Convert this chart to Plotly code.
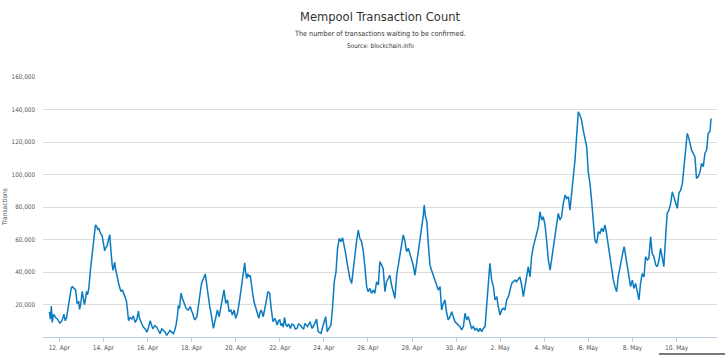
import pandas as pd
import plotly.graph_objects as go

# ---- data ----
# day offsets are fractional days after 12 Apr 2017 00:00
day_offset = [
    -0.45, -0.40, -0.36, -0.32, -0.26, -0.17, -0.08, 0.03, 0.12, 0.21, 0.27, 0.33, 0.39, 0.47, 0.54, 0.59,
    0.66, 0.74, 0.81, 0.88, 0.92, 0.98, 1.04, 1.10, 1.14, 1.20, 1.23, 1.28, 1.34, 1.41, 1.47, 1.53,
    1.59, 1.64, 1.70, 1.75, 1.79, 1.86, 1.94, 2.00, 2.06, 2.11, 2.17, 2.23, 2.29, 2.33, 2.36, 2.40,
    2.44, 2.48, 2.51, 2.55, 2.59, 2.64, 2.69, 2.75, 2.80, 2.86, 2.92, 2.98, 3.04, 3.09, 3.14, 3.21,
    3.29, 3.36, 3.44, 3.52, 3.59, 3.63, 3.67, 3.74, 3.82, 3.90, 3.97, 4.05, 4.12, 4.18, 4.24, 4.33,
    4.42, 4.50, 4.57, 4.65, 4.72, 4.80, 4.87, 4.95, 5.02, 5.10, 5.17, 5.23, 5.29, 5.35, 5.40,
    5.45, 5.52, 5.58, 5.64, 5.70, 5.75, 5.85, 5.94, 6.00, 6.05, 6.10, 6.15, 6.24, 6.30, 6.35, 6.40,
    6.45, 6.54, 6.62, 6.68, 6.72, 6.77, 6.82, 6.87, 6.93, 6.99, 7.05, 7.10, 7.17, 7.25, 7.33, 7.40,
    7.47, 7.55, 7.63, 7.70, 7.78, 7.85, 7.93, 8.00, 8.08, 8.18, 8.27, 8.35, 8.41, 8.45, 8.50, 8.55,
    8.60, 8.66, 8.71, 8.77, 8.83, 8.93, 9.00, 9.05, 9.10, 9.16, 9.25, 9.35, 9.40, 9.46, 9.54, 9.61,
    9.69, 9.78, 9.88, 9.94, 10.00, 10.05, 10.11, 10.16, 10.21, 10.27, 10.33, 10.40, 10.48, 10.55, 10.63, 10.70,
    10.78, 10.85, 10.93, 11.00, 11.08,
    11.14, 11.26, 11.37, 11.47, 11.59, 11.67, 11.74, 11.87, 11.97, 12.08, 12.15, 12.24, 12.32, 12.39, 12.47, 12.55,
    12.62, 12.70, 12.77, 12.85, 12.92, 13.00, 13.07, 13.18, 13.26, 13.33, 13.41, 13.48, 13.56, 13.63, 13.71, 13.79,
    13.86, 13.94, 14.01, 14.09, 14.16, 14.24, 14.31, 14.39, 14.47, 14.54, 14.62, 14.69, 14.77, 14.84, 14.92, 14.99,
    15.07, 15.15, 15.22, 15.30, 15.37, 15.45, 15.52, 15.60, 15.68, 15.75, 15.83, 15.90, 15.98, 16.05, 16.13, 16.20,
    16.28, 16.36, 16.43, 16.51, 16.55, 16.61, 16.67, 16.73, 16.81, 16.88, 16.96,
    17.04, 17.12, 17.19, 17.27, 17.34, 17.42, 17.49, 17.57, 17.64, 17.72, 17.80, 17.87, 17.95, 18.02, 18.10, 18.17,
    18.25, 18.33, 18.40, 18.48, 18.55, 18.63, 18.70, 18.78, 18.85, 18.93, 19.01, 19.08, 19.16, 19.23, 19.31, 19.38,
    19.46, 19.53, 19.61, 19.69, 19.76, 19.84, 19.91, 19.99, 20.06, 20.14, 20.21, 20.29, 20.37, 20.44, 20.52, 20.59,
    20.67, 20.74, 20.82, 20.89, 20.97, 21.05, 21.12, 21.20, 21.27, 21.35, 21.42, 21.50, 21.58, 21.65, 21.73, 21.80,
    21.88, 21.95, 22.03, 22.10, 22.18, 22.26, 22.33, 22.41, 22.48, 22.56, 22.63, 22.71, 22.78, 22.86, 22.94, 23.01,
    23.09, 23.16,
    23.24, 23.31, 23.39, 23.46, 23.54, 23.61, 23.69, 23.76, 23.84, 23.92, 23.99, 24.07, 24.14, 24.22, 24.29, 24.37,
    24.45, 24.52, 24.60, 24.67, 24.75, 24.82, 24.90, 24.97, 25.05, 25.13, 25.20, 25.28, 25.35, 25.43, 25.50, 25.58,
    25.62, 25.70, 25.78, 25.85, 25.91, 25.99, 26.06, 26.14, 26.21, 26.29, 26.36, 26.44, 26.52, 26.59, 26.67, 26.74,
    26.82, 26.89, 26.97, 27.05, 27.12, 27.20, 27.27, 27.35, 27.42, 27.50, 27.57, 27.65, 27.73, 27.80, 27.88, 27.95,
    28.03, 28.10, 28.18, 28.26, 28.33, 28.41, 28.48, 28.54, 28.60, 28.68, 28.75, 28.83, 28.90, 28.98, 29.06, 29.13,
    29.21, 29.28, 29.36, 29.43, 29.51, 29.56,
]

# transactions waiting, in thousands
tx_thousands = [
    15.4, 11, 19, 9, 14, 12, 11, 8.5, 10, 14, 10, 12, 17, 25, 30, 31,
    30, 29, 20.5, 22, 17, 21, 28, 24, 20, 24, 28, 26, 30, 41, 49, 57,
    65, 69, 68, 66, 67, 64, 62.5, 58, 53, 55, 56, 60, 63, 55, 49, 44,
    41, 44, 46, 42, 39, 36, 33, 30, 28, 29, 27, 24, 22.5, 17, 10, 12,
    11, 13, 9, 11, 16, 12, 10, 8, 6, 5, 3, 6, 10, 7, 5, 7,
    6, 4, 2, 5, 4, 3, 1, 3, 4, 3, 2, 4, 7, 12, 19.5,
    17.6, 27, 24, 22, 20, 17.6, 16.6, 18.7, 16, 14.6, 12, 10.5, 12.5, 19, 24.8, 29,
    33, 36, 38.8, 33, 28, 22.8, 19, 15.6, 10, 5.3, 9, 12.5, 16.6, 12.5, 18.7, 21.7,
    29, 20.7, 22.8, 15.6, 16.6, 13.5, 16.6, 11.5, 14.6, 22.8, 33, 41, 45.7, 40, 36, 39,
    37, 38, 34, 27, 21.7, 17.6, 14, 11.5, 15, 16.6, 12.5, 18.7, 23, 27.9, 26.9, 17.6,
    9.4, 11.5, 7.4, 10, 10.5, 7, 8.4, 6, 12, 8, 6.4, 8, 5.3, 8, 7.4, 5,
    5.3, 8, 7.4, 6, 4.7,
    8.4, 6.4, 9.4, 5.3, 8.4, 11, 3.3, 2.3, 7.4, 12.5, 3.3, 5.3, 7.4, 17.6, 34, 40,
    54.6, 60.7, 58.7, 61, 56.6, 50.5, 44.3, 36, 33, 42, 48.4, 58.7, 65.8, 60.7, 58.7, 52.5,
    43.3, 31, 27.9, 29.9, 26.9, 28.9, 26.9, 34, 32, 46.4, 44.3, 42, 27.9, 34, 36, 38,
    32, 27.9, 23.8, 38, 44.3, 51.5, 56.6, 62.8, 58.7, 52.5, 54.6, 51.5, 46.4, 44.3, 38, 44.3,
    50.5, 58.7, 66.9, 75, 81.2, 74, 71, 58.7, 44.3, 41.2, 38,
    34, 32, 28.9, 31, 16.6, 20.7, 22.8, 14.6, 10.5, 12.5, 15.6, 12.5, 9.4, 8.4, 7.4, 6.4,
    4.3, 6.4, 14.6, 10.5, 12.5, 8.4, 5.3, 6.4, 4.3, 5.3, 3.3, 5.3, 3.3, 5.3, 6.4, 18.7,
    31, 45.3, 35, 31, 22.8, 24.8, 18.7, 13.5, 16.6, 17.6, 16.6, 22.8, 24.8, 28.9, 33, 34,
    35, 34, 36, 37, 32, 24.8, 31, 39, 43.3, 37, 49.4, 55.6, 59.7, 63.8, 67.9, 77.1,
    72, 74, 68.9, 59.7, 47.4, 41.2, 47.4, 55.6, 61.7, 69.9, 76.1, 72, 74, 82.2, 87.4, 85.3,
    86.3, 78.1,
    88.4, 100.7, 109, 123, 138.6, 136.6, 133.5, 127.4, 123, 117, 101.7, 94.5, 84.3, 67.9, 59.7, 57.6,
    64.8, 63.8, 66.9, 64.8, 68.9, 63.8, 55.6, 49.4, 43.3, 35, 31, 27.9, 37, 43.3, 49.4, 53.5,
    55.6, 49.4, 43.3, 37, 31, 35, 29.9, 33, 26.9, 22.8, 33, 39, 37, 49.4, 47.4, 48.4,
    61.7, 51.5, 49.4, 44.3, 43.3, 47.4, 54.6, 49.4, 43.3, 61.7, 76.1, 78.1, 82.2, 89.4, 86.3, 83.3,
    79.2, 88.4, 90.4, 94.5, 105.8, 115, 125.3, 123, 119, 115, 113, 111, 97.6, 98.7, 101.7, 106.9,
    104.8, 113, 115, 125.3, 126.3, 134.5,
]

y_tick_values = [20000, 40000, 60000, 80000, 100000, 120000, 140000, 160000]

title_text = "Mempool Transaction Count"
subtitle_text = "The number of transactions waiting to be confirmed."
source_text = "Source: blockchain.info"
y_title = "Transactions"

# ---- build ----
base = pd.Timestamp("2017-04-12 00:00")
times = base + pd.to_timedelta(day_offset, unit="D")
tx_count = [v * 1000 for v in tx_thousands]

FONT = "DejaVu Sans Condensed, Liberation Sans, Arial, sans-serif"

PLOT_TOP, PLOT_H = 77, 260   # pixel geometry of the plotting area
PLOT_LEFT, PLOT_W = 43, 674


def py(px):  # pixel row -> paper y
    return 1 + (PLOT_TOP - px) / PLOT_H


def pxx(px):  # pixel column -> paper x
    return (px - PLOT_LEFT) / PLOT_W


fig = go.Figure()
fig.add_trace(go.Scatter(
    x=times, y=tx_count, mode="lines",
    line=dict(color="#0b7bc1", width=1.5),
    hoverinfo="x+y", showlegend=False,
))

x_start = base + pd.Timedelta(days=-0.739)
x_end = base + pd.Timedelta(days=29.83)

fig.update_layout(
    width=725, height=355,
    margin=dict(l=PLOT_LEFT, r=725 - PLOT_LEFT - PLOT_W, t=PLOT_TOP, b=355 - PLOT_TOP - PLOT_H, pad=0),
    paper_bgcolor="white", plot_bgcolor="white",
    font=dict(family=FONT, color="#666666"),
    xaxis=dict(
        type="date", range=[x_start, x_end], automargin=False,
        tick0=base, dtick=2 * 86400000, tickformat="%-d. %b",
        showgrid=False, zeroline=False,
        showline=True, linecolor="#C0D0E0", linewidth=1,
        ticks="outside", ticklen=4, tickcolor="#C0D0E0", tickwidth=1,
        tickfont=dict(family=FONT, size=6.5, color="#555555"),
    ),
    yaxis=dict(
        range=[0, 160000], tickvals=y_tick_values, tickformat=",d", automargin=False,
        showgrid=True, gridcolor="#DDDDDD", gridwidth=1,
        zeroline=False, showline=False, ticks="", ticklabelstandoff=7,
        tickfont=dict(family=FONT, size=6.3, color="#555555"),
    ),
    annotations=[
        dict(text=title_text, x=0.5, xref="paper", y=py(17), yref="paper",
             xanchor="center", yanchor="middle", showarrow=False,
             font=dict(family=FONT, size=12.8, color="#333333")),
        dict(text=subtitle_text, x=0.5, xref="paper", y=py(34), yref="paper",
             xanchor="center", yanchor="middle", showarrow=False,
             font=dict(family=FONT, size=7.2, color="#333333")),
        dict(text=source_text, x=0.5, xref="paper", y=py(45.5), yref="paper",
             xanchor="center", yanchor="middle", showarrow=False,
             font=dict(family=FONT, size=6.4, color="#333333")),
        dict(text=y_title, x=pxx(5), xref="paper", y=0.5, yref="paper",
             xanchor="center", yanchor="middle", showarrow=False, textangle=-90,
             font=dict(family=FONT, size=6.6, color="#555555")),
    ],
    shapes=[
        dict(type="line", xref="paper", yref="paper",
             x0=pxx(659), x1=pxx(725), y0=py(354), y1=py(354),
             line=dict(color="#7a7a7a", width=2)),
    ],
)

fig.write_html("out.html", config={"displayModeBar": False},
               post_script="document.body.style.margin='0';document.body.style.padding='0';")
